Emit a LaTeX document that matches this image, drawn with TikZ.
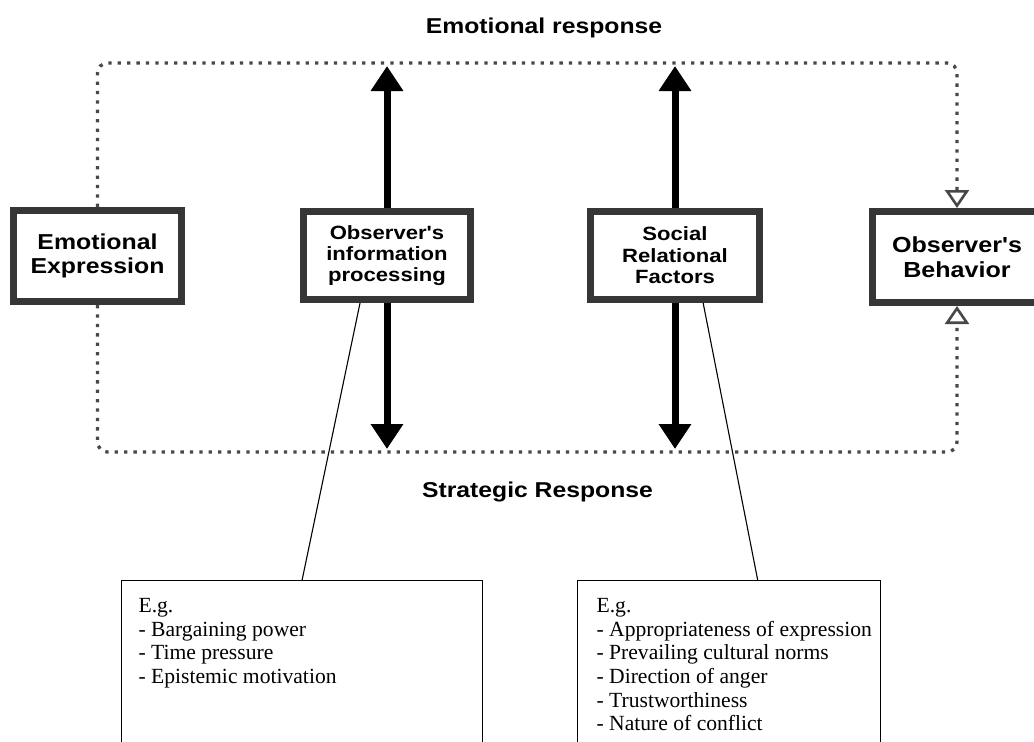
\documentclass[tikz,border=0pt]{standalone}
\usepackage{fontspec}
\setmainfont{Liberation Serif}
\newfontfamily\labelfont[FakeStretch=1.15]{Liberation Sans}
\usetikzlibrary{arrows.meta,calc}
\definecolor{boxgray}{HTML}{363636}
\definecolor{dotgray}{HTML}{484848}

\begin{document}
\begin{tikzpicture}[x=1pt,y=-1pt,
  factor/.style={draw=boxgray, line width=7pt, fill=white, align=center,
    text=black, inner sep=0pt},
  heading/.style={anchor=base, text=black,
    font=\labelfont\bfseries\fontsize{21.5}{24}\selectfont},
  loopline/.style={draw=dotgray, line width=3.3pt, dash pattern=on 3.3pt off 6.1pt,
    rounded corners=10pt},
  hollowtip/.style={-{Triangle[open,width=24pt,length=18pt,line width=2.6pt]}},
  bigarrow/.style={line width=7pt, -{Triangle[width=31pt,length=25pt]}},
  exbox/.style={draw, line width=1.2pt, anchor=north west, inner xsep=17pt,
    inner ysep=18pt, font=\fontsize{21.6}{23.6}\selectfont},
  leader/.style={line width=1.1pt}
]
\useasboundingbox (0,0) rectangle (1034,742);

% reference rows for the feedback loop and the arrow tips
\coordinate (looptop) at (0,63);
\coordinate (loopbot) at (0,452);
\coordinate (tiptop) at (0,66);
\coordinate (tipbot) at (0,449);

% four factor boxes
\node[factor, minimum width=168pt, minimum height=91pt,
  font=\labelfont\bfseries\fontsize{21.6}{24}\selectfont] (ee) at (97.5,256)
  {Emotional\\Expression};
\node[factor, minimum width=167pt, minimum height=88pt,
  font=\labelfont\bfseries\fontsize{19.2}{20.7}\selectfont] (oip) at (387,255.5)
  {Observer's\\information\\processing};
\node[factor, minimum width=169pt, minimum height=88pt,
  font=\labelfont\bfseries\fontsize{19.2}{21.5}\selectfont] (srf) at (675,255.5)
  {Social\\Relational\\Factors};
\node[factor, minimum width=169pt, minimum height=91pt,
  font=\labelfont\bfseries\fontsize{21.8}{25}\selectfont] (ob) at (957,257)
  {Observer's\\Behavior};

% dotted feedback loop around the boxes
\draw[loopline, hollowtip] (ee.north) -- (ee.north |- looptop) -| (ob.north);
\draw[loopline, hollowtip] (ee.south) -- (ee.south |- loopbot) -| (ob.south);

% heavy arrows to both responses
\draw[bigarrow] (oip.north) -- (oip.north |- tiptop);
\draw[bigarrow] (oip.south) -- (oip.south |- tipbot);
\draw[bigarrow] (srf.north) -- (srf.north |- tiptop);
\draw[bigarrow] (srf.south) -- (srf.south |- tipbot);

% response labels
\node[heading] (emo) at (544,33) {Emotional response};
\node[heading] (str) at (537.5,497) {Strategic Response};

% example boxes
\node[exbox] (exl) at (121,580)
  {\parbox[t][190pt][t]{327pt}{E.g.\\
   - Bargaining power\\
   - Time pressure\\
   - Epistemic motivation}};
\node[exbox, inner xsep=19pt] (exr) at (577,580)
  {\parbox[t][190pt][t]{265pt}{E.g.\\
   \mbox{- Appropriateness of expression}\\
   - Prevailing cultural norms\\
   - Direction of anger\\
   - Trustworthiness\\
   - Nature of conflict}};

% leader lines from the boxes to their examples
\draw[leader] ($(oip.south west)!0.345!(oip.south east)$) -- (exl.north);
\draw[leader] ($(srf.south west)!0.66!(srf.south east)$) --
  ($(exr.north west)!0.594!(exr.north east)$);
\end{tikzpicture}
\end{document}
